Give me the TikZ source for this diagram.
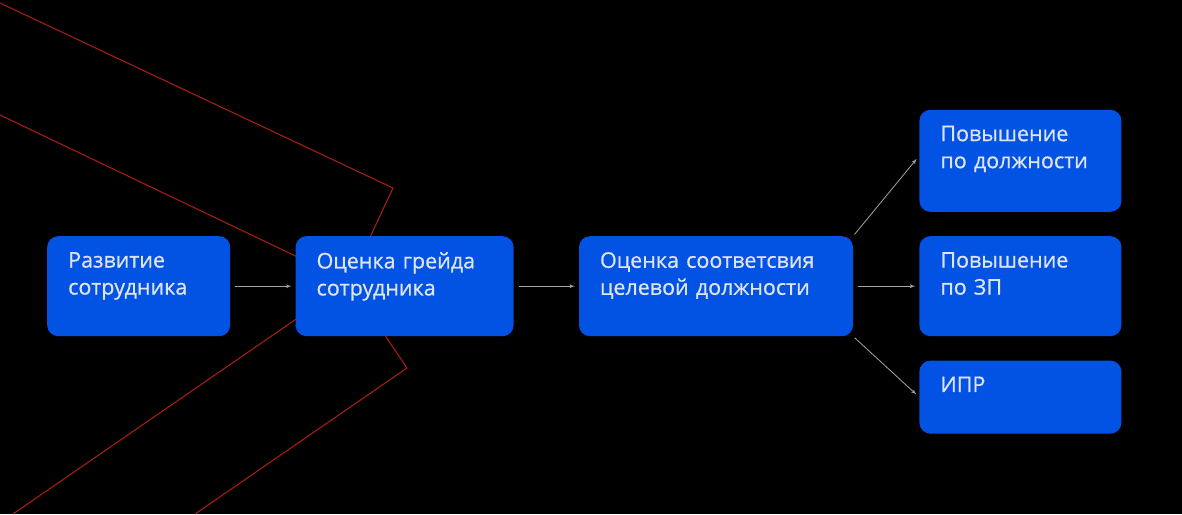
\documentclass[tikz,border=0pt]{standalone}
\usepackage{fontspec}
\usepackage{tikz}
\usetikzlibrary{positioning}
\usetikzlibrary{shapes,arrows}
\newfontfamily\stagefamily[FakeBold=0.7]{Open Sans}
\definecolor{stageblue}{RGB}{2,82,228}
\definecolor{stagefg}{RGB}{222,228,240}
\definecolor{linkgray}{RGB}{165,165,165}
\definecolor{chevred}{RGB}{165,30,15}
\newcommand{\stagefont}{\stagefamily\fontsize{21.5}{27}\selectfont}
\newcommand{\toptext}[2]{\begin{minipage}[t][#1][t]{\linewidth}#2\end{minipage}}
\tikzstyle{stage} = [rectangle, fill=stageblue, text=stagefg, font=\stagefont,
                align=left, rounded corners=11pt, inner xsep=21pt, inner ysep=16pt]
\tikzstyle{line} = [draw=linkgray, line width=0.8pt, -latex', shorten <=5pt, shorten >=4pt]
\tikzstyle{chevron} = [draw=chevred, line width=1.1pt]

\begin{document}
\begin{tikzpicture}[x=1pt, y=-1pt]
                \fill[black] (0,0) rectangle (1182,514);
                \useasboundingbox (0,0) rectangle (1182,514);
                \draw[chevron] (0,3) -- (393,188) -- (349,282) -- (407,368) -- (195,514);
                \draw[chevron] (0,115) -- (350,282) -- (13,514);
                \node[stage, anchor=north west, text width=141pt](dev) at (47,236){\toptext{68pt}{Развитие\\сотрудника}};
                \node[stage, right=65pt of dev, text width=176pt](grade){\toptext{68pt}{Оценка грейда\\сотрудника}};
                \node[stage, right=65pt of grade, text width=232pt](fit){\toptext{68pt}{Оценка соответсвия\\целевой должности}};
                \node[stage, right=66pt of fit, text width=160pt](salary){\toptext{68pt}{Повышение\\по ЗП}};
                \node[stage, above=24pt of salary, text width=160pt](promo){\toptext{70pt}{Повышение\\по должности}};
                \node[stage, below=24pt of salary, text width=160pt](ipr){\toptext{41pt}{ИПР}};
                \path[line] (dev) -- (grade);
                \path[line] (grade) -- (fit);
                \path[line, shorten <=2pt] (fit.north east) -- ([yshift=5pt]promo.west);
                \path[line] (fit) -- (salary);
                \path[line, shorten <=2pt] (fit.south east) -- (ipr.west);
            \end{tikzpicture}
\end{document}
